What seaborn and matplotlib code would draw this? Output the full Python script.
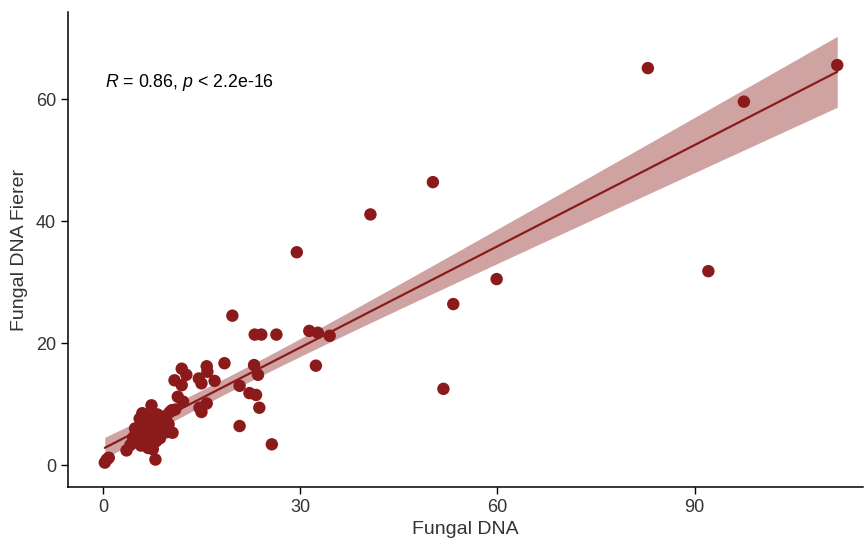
import numpy as np
import pandas as pd
import matplotlib
matplotlib.use("Agg")
import matplotlib.pyplot as plt
import seaborn as sns

fungal_dna = [
    0.3, 0.6, 0.9, 3.6, 4.2, 5.0, 5.3, 5.6, 5.9, 6.1, 6.3, 6.5, 6.7, 6.8, 7.0, 7.2,
    7.4, 7.5, 7.7, 7.9, 8.0, 8.1, 8.3, 8.5, 8.7, 9.0, 9.3, 9.5, 9.8, 10.0, 10.2,
    10.5, 11.0, 4.6, 5.8, 6.9, 7.6, 8.9, 9.6, 6.0, 4.9, 10.6,
    11.4, 12.2, 12.0, 10.9, 12.0, 12.7, 14.6, 15.0, 15.8, 15.9, 17.0, 15.8, 15.0,
    14.7, 18.5, 19.7, 20.8, 20.8, 22.3, 23.3, 23.0, 23.6, 23.8, 23.1, 24.1, 26.4,
    25.7, 29.5, 31.4, 32.7, 34.5, 32.4, 40.7, 50.2, 53.3, 51.8, 59.9, 82.9, 92.1,
    97.5, 111.7,
]
fungal_dna_fierer = [
    0.4, 0.9, 1.2, 2.4, 3.3, 4.2, 5.0, 7.6, 6.5, 4.8, 5.8, 7.0, 3.6, 8.1, 6.1, 4.5,
    9.8, 7.4, 5.3, 6.8, 0.9, 3.9, 8.3, 5.9, 4.4, 7.2, 6.4, 8.0, 5.4, 6.7, 8.7,
    9.0, 9.1, 4.5, 3.2, 2.8, 2.6, 5.2, 7.7, 8.5, 6.0, 5.3,
    11.2, 10.4, 13.1, 13.9, 15.8, 14.8, 14.2, 13.4, 16.2, 15.3, 13.8, 10.1, 8.7,
    9.4, 16.7, 24.5, 13.0, 6.4, 11.8, 11.5, 16.4, 14.8, 9.4, 21.4, 21.4, 21.4,
    3.4, 34.9, 22.0, 21.7, 21.2, 16.3, 41.1, 46.4, 26.4, 12.5, 30.5, 65.1, 31.8,
    59.6, 65.6,
]
x_ticks = [0, 30, 60, 90]
y_ticks = [0, 20, 40, 60]
annotation = r"$R$ = 0.86, $p$ < 2.2e-16"

df = pd.DataFrame({"Fungal DNA": fungal_dna, "Fungal DNA Fierer": fungal_dna_fierer})

sns.set_theme(style="ticks")
plt.rcParams["font.family"] = ["Liberation Sans", "DejaVu Sans"]
plt.rcParams["mathtext.fontset"] = "custom"
plt.rcParams["mathtext.it"] = "Liberation Sans:italic"
plt.rcParams["mathtext.rm"] = "Liberation Sans"

color = "#8B1A1A"
fig = plt.figure(figsize=(8.64, 5.41), dpi=100)
ax = fig.add_axes([0.0787, 0.0998, 0.92, 0.878])

sns.scatterplot(data=df, x="Fungal DNA", y="Fungal DNA Fierer", color=color,
                s=80, edgecolor="none", ax=ax, zorder=2)

# linear fit with analytic 95% confidence band (like ggplot geom_smooth(method="lm"))
x = df["Fungal DNA"].to_numpy()
y = df["Fungal DNA Fierer"].to_numpy()
n = len(x)
slope, intercept = np.polyfit(x, y, 1)
resid = y - (intercept + slope * x)
s_err = np.sqrt(np.sum(resid ** 2) / (n - 2))
xg = np.linspace(x.min(), x.max(), 100)
yg = intercept + slope * xg
se = s_err * np.sqrt(1.0 / n + (xg - x.mean()) ** 2 / np.sum((x - x.mean()) ** 2))
tval = 1.99
ax.fill_between(xg, yg - tval * se, yg + tval * se, color=color, alpha=0.4,
                linewidth=0, zorder=3)
sns.regplot(data=df, x="Fungal DNA", y="Fungal DNA Fierer", scatter=False,
            color=color, ci=None, line_kws={"linewidth": 1.6, "zorder": 4}, ax=ax,
            truncate=True)

ax.set_xlim(-5.3, 115.6)
ax.set_ylim(-3.6, 74.3)
ax.set_xticks(x_ticks)
ax.set_yticks(y_ticks)
ax.tick_params(axis="both", labelsize=13, labelcolor="#333333", length=5,
               width=1, color="black", direction="out")
for side in ["top", "right"]:
    ax.spines[side].set_visible(False)
for side in ["left", "bottom"]:
    ax.spines[side].set_color("black")
    ax.spines[side].set_linewidth(1.1)

ax.set_xlabel("Fungal DNA", fontsize=14, color="#333333", labelpad=4)
ax.set_ylabel("Fungal DNA Fierer", fontsize=14, color="#333333", labelpad=6)

ax.text(0.3, 62.8, annotation, fontsize=12.8, color="black", ha="left", va="center")

fig.savefig("out.png", dpi=100)
